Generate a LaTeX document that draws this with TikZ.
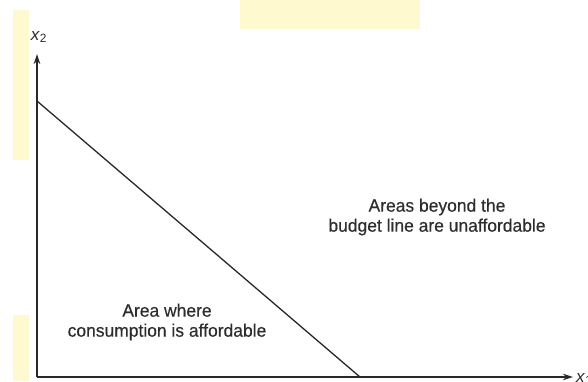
\documentclass[tikz,border=0pt]{standalone}
\usepackage{fontspec}
\setmainfont{Liberation Sans}
\newfontfamily\notefont[FakeStretch=0.97, FakeBold=0.4]{Liberation Sans}
\usepackage{xcolor}
\usetikzlibrary{positioning, arrows.meta}

\definecolor{axisgray}{RGB}{40,40,40}
\definecolor{textgray}{RGB}{45,45,45}
\definecolor{scanyellow}{RGB}{255,249,208}

\begin{document}
\begin{tikzpicture}[x=1pt, y=-1pt,
        axis/.style={draw=axisgray, line width=1.4pt, -{Stealth[length=10pt, width=6.5pt]}},
        budget/.style={draw=axisgray, line width=1.3pt},
        note/.style={align=center, text=textgray, inner sep=0pt,
          font={\notefont\fontsize{18}{20}\selectfont}},
        axlabel/.style={text=textgray, inner sep=0pt, font={\fontsize{17}{18}\selectfont}}]

        \useasboundingbox (0,0) rectangle (588,381);

        % scan tint
        \fill[scanyellow] (240,0) rectangle (420,29);
        \fill[scanyellow] (13,10) rectangle (29,160);
        \fill[scanyellow] (13,315) rectangle (29,381);

        % axes
        \coordinate (origin) at (37,377);
        \coordinate (ytip) at (37,54);
        \coordinate (xtip) at (573,377);
        \draw[axis] (origin) -- (ytip);
        \draw[axis] (origin) -- (xtip);

        \node[axlabel] (ylab) at (39,37) {\textit{x}\textsubscript{\upshape 2}};
        \node[axlabel, anchor=west] (xlab) at (576,379) {\textit{x}\textsubscript{\upshape 1}};

        % budget line
        \coordinate (yint) at (37,101);
        \coordinate (xint) at (360,377);
        \draw[budget] (yint) -- (xint);

        % areas
        \node[note] (inside) at (167,322) {Area where\\consumption is affordable};
        \node[note] (outside) at (437,217) {Areas beyond the\\budget line are unaffordable};
      \end{tikzpicture}
\end{document}
